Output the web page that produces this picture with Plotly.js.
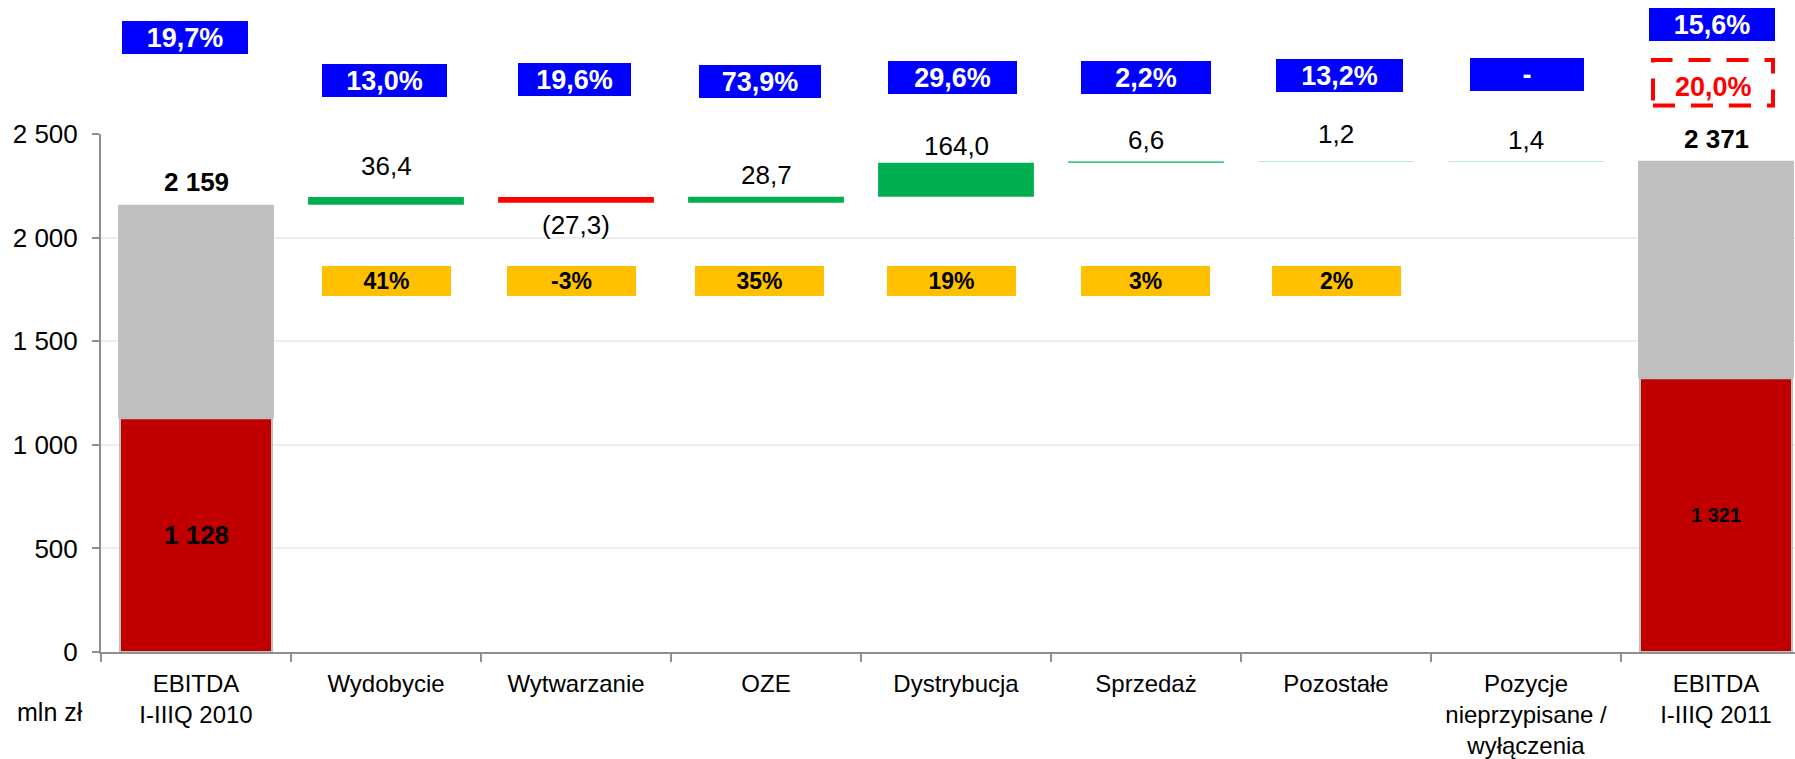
<!DOCTYPE html>
<html><head><meta charset="utf-8">
<script src="https://cdn.plot.ly/plotly-3.0.1.min.js"></script>
<style>html,body{margin:0;padding:0;overflow:hidden;background:#fff}</style>
</head><body><div id="chart" style="width:1795px;height:759px"></div>
<script>
// ---------- data ----------
const categories = ['EBITDA<br>I-IIIQ 2010','Wydobycie','Wytwarzanie','OZE','Dystrybucja','Sprzedaż','Pozostałe','Pozycje<br>nieprzypisane /<br>wyłączenia','EBITDA<br>I-IIIQ 2011'];
const totalStart = 2159;
const totalEnd = 2371;
const totalRedPart = [1128, 1321];
const deltas = [36.4, -27.3, 28.7, 164.0, 6.6, 1.2, 1.4];
const marginLabels = ['19,7%','13,0%','19,6%','73,9%','29,6%','2,2%','13,2%','-','15,6%'];
const shareLabels = ['41%','-3%','35%','19%','3%','2%'];
const targetLabel = '20,0%';
const unitLabel = 'mln zł';

// ---------- layout / style constants ----------
const W = 1795, H = 759, L = 101, T = 134, B = 107;
const plotW = W - L, plotH = H - T - B;
const catPx = 190;
const FONT = 'Liberation Sans, Arial, sans-serif';
const valueLabelShift = [23, 31, -22, 22, 17, 21, 27, 21, 22];
const marginBoxY = [37.3, 80.3, 79.5, 81.5, 77.5, 77.5, 75.3, 74.3, 24.3];
const marginBoxW = [126, 125, 113, 122, 129, 130, 127, 114, 126];
const marginBoxDX = [-10.6, -1.6, -1.5, -6.4, -4, -0.5, 3.5, 1, -4];
const shareBoxDX = [0.3, -4.4, -6.5, -4.4, -0.7, 0.5];
const py = p => (H - B - p) / plotH;

// ---------- derived ----------
const last = categories.length - 1;
const totX = [categories[0], categories[last]];
const totVals = [totalStart, totalEnd];
const deltaX = categories.slice(1, last);
let run = totalStart;
const deltaBase = deltas.map(d => { const b = run; run += d; return b; });
const fmtInt = v => Math.round(v).toString().replace(/\B(?=(\d{3})+(?!\d))/g, ' ');
const fmtDelta = v => { const s = Math.abs(v).toFixed(1).replace('.', ','); return v < 0 ? '(' + s + ')' : s; };

const traces = [
  { type: 'bar', x: totX, y: totalRedPart, base: [0, 0], width: 0.8,
    marker: { color: '#c00000', line: { color: '#bfbfbf', width: 2 } }, hoverinfo: 'skip' },
  { type: 'bar', x: totX, y: totVals.map((v, i) => v - totalRedPart[i]), base: totalRedPart, width: 0.82,
    marker: { color: '#bfbfbf' }, hoverinfo: 'skip' },
  { type: 'bar', x: deltaX, y: deltas, base: deltaBase, width: 0.82,
    marker: { color: deltas.map(d => d < 0 ? '#ff0000' : '#00b050') }, hoverinfo: 'skip' }
];

const ann = [];
// value labels
const valueTop = [totalStart].concat(deltas.map((d, i) => deltaBase[i] + d)).concat([totalEnd]);
categories.forEach((c, i) => {
  let text, bold = false;
  if (i === 0) { text = fmtInt(totalStart); bold = true; }
  else if (i === last) { text = fmtInt(totalEnd); bold = true; }
  else text = fmtDelta(deltas[i - 1]);
  ann.push({ x: i, y: valueTop[i], xref: 'x', yref: 'y', text: bold ? '<b>' + text + '</b>' : text,
    showarrow: false, xanchor: 'center', yanchor: 'middle', yshift: valueLabelShift[i],
    font: { family: FONT, size: 26, color: '#000' } });
});
// labels inside the red parts
totalRedPart.forEach((v, k) => {
  ann.push({ x: k === 0 ? 0 : last, y: v / 2, xref: 'x', yref: 'y', text: '<b>' + fmtInt(v) + '</b>',
    showarrow: false, xanchor: 'center', yanchor: 'middle',
    font: { family: FONT, size: k === 0 ? 26 : 20, color: '#000' } });
});
// blue margin boxes
marginLabels.forEach((t, i) => {
  ann.push({ x: i, xshift: marginBoxDX[i], y: py(marginBoxY[i]), xref: 'x', yref: 'paper',
    xanchor: 'center', yanchor: 'middle',
    text: '<b>' + t + '</b>', showarrow: false, bgcolor: '#0000ff', width: marginBoxW[i], height: 33,
    borderpad: 0, borderwidth: 0, font: { family: FONT, size: 27, color: '#ffffff' } });
});
// yellow share boxes
shareLabels.forEach((t, k) => {
  ann.push({ x: k + 1, xshift: shareBoxDX[k], y: py(280.8), xref: 'x', yref: 'paper',
    xanchor: 'center', yanchor: 'middle',
    text: '<b>' + t + '</b>', showarrow: false, bgcolor: '#ffc000', width: 129, height: 30,
    borderpad: 0, borderwidth: 0, font: { family: FONT, size: 23, color: '#000' } });
});
// target label
ann.push({ x: last, xshift: -3, y: py(86.7), xref: 'x', yref: 'paper', text: '<b>' + targetLabel + '</b>',
  xanchor: 'center', yanchor: 'middle',
  showarrow: false, font: { family: FONT, size: 27, color: '#ff0000' } });
// unit label
ann.push({ x: (50 - L) / plotW, y: py(712), xref: 'paper', yref: 'paper', text: unitLabel,
  showarrow: false, xanchor: 'center', yanchor: 'middle', font: { family: FONT, size: 25, color: '#000' } });

const shapes = [{
  type: 'rect', xref: 'x', yref: 'paper',
  x0: last + (1653 - 1716) / catPx, x1: last + (1773 - 1716) / catPx,
  y0: py(105.5), y1: py(60),
  line: { color: '#ff0000', width: 4, dash: '22px,16px' }, fillcolor: 'rgba(0,0,0,0)'
}];

const layout = {
  width: W, height: H, margin: { l: L, r: 0, t: T, b: B, pad: 0 },
  paper_bgcolor: '#fff', plot_bgcolor: '#fff', showlegend: false, barmode: 'overlay',
  separators: ', ',
  font: { family: FONT, size: 25, color: '#000' },
  xaxis: { type: 'category', categoryorder: 'array', categoryarray: categories,
    range: [-0.5, -0.5 + plotW / catPx], showgrid: false, zeroline: false,
    showline: true, linecolor: '#8f8f8f', linewidth: 2,
    ticks: 'outside', tickson: 'boundaries', ticklen: 8, tickcolor: '#8f8f8f', tickwidth: 2,
    ticklabelstandoff: 9,
    tickfont: { family: FONT, size: 24, color: '#000' }, fixedrange: true },
  yaxis: { range: [0, 2500], tickvals: [0, 500, 1000, 1500, 2000, 2500], tickformat: ',d',
    showgrid: true, gridcolor: '#eeeeee', gridwidth: 2, zeroline: false,
    showline: true, linecolor: '#8f8f8f', linewidth: 2,
    ticks: 'outside', ticklen: 7, tickcolor: '#8f8f8f', tickwidth: 2,
    ticklabelstandoff: 9,
    tickfont: { family: FONT, size: 26, color: '#000' }, fixedrange: true },
  annotations: ann, shapes: shapes
};

Plotly.newPlot('chart', traces, layout, { displayModeBar: false, staticPlot: true });
</script></body></html>
